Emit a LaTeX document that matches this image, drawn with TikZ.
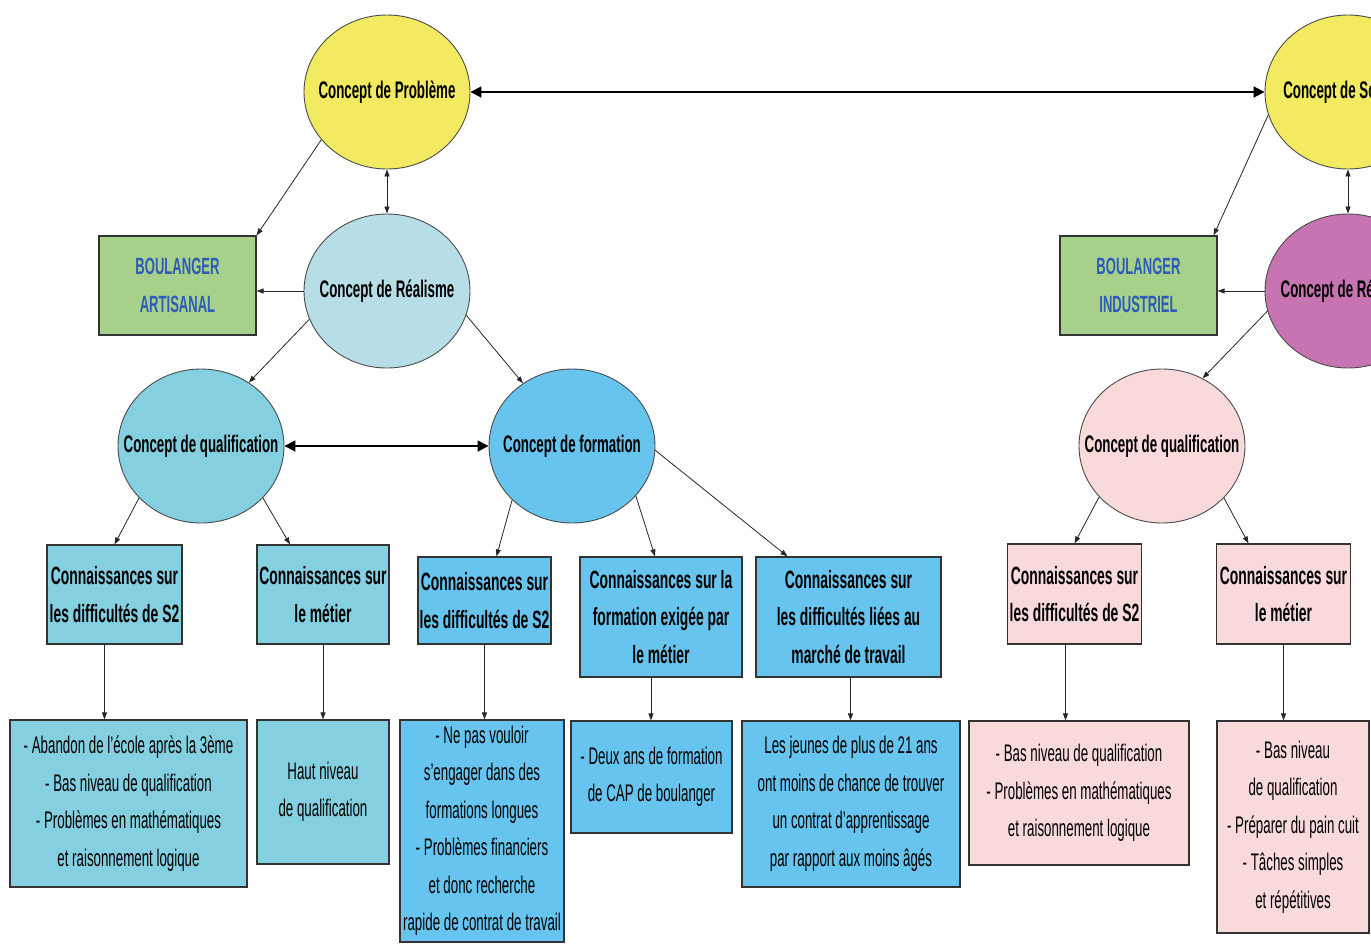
\documentclass[tikz,border=0pt]{standalone}
\usepackage{fontspec}
\newfontfamily\nar[FakeStretch=0.555]{Liberation Sans}
\usetikzlibrary{shapes.geometric,arrows.meta,calc}
\definecolor{cyel}{HTML}{F2EA60}
\definecolor{creal}{HTML}{B7DEE6}
\definecolor{cqual}{HTML}{84CFE0}
\definecolor{cform}{HTML}{66C4EE}
\definecolor{cpink}{HTML}{F9DADB}
\definecolor{cmag}{HTML}{C873B2}
\definecolor{cgreen}{HTML}{A7D18B}
\definecolor{cbluetxt}{HTML}{2E5CB8}
\tikzset{
  circ/.style={ellipse, draw=black!70, line width=0.9pt, minimum width=166pt, minimum height=154pt, inner sep=0pt,
    label={[font=\nar\bfseries\fontsize{24}{28}\selectfont, inner sep=0pt]center:#1}},
  hbox/.style={rectangle, draw=black!80, line width=1.2pt, align=center, inner sep=0pt, font=\nar\bfseries\fontsize{25}{37.5}\selectfont},
  tbox/.style={rectangle, draw=black!80, line width=1.2pt, align=center, inner sep=0pt, font=\nar\fontsize{24}{37.5}\selectfont},
  gbox/.style={rectangle, draw=black!80, line width=1.2pt, align=center, inner sep=0pt, fill=cgreen, text=cbluetxt, minimum width=157pt, minimum height=99pt, font=\nar\bfseries\fontsize{23.5}{38}\selectfont},
  arr/.style={-{Triangle[length=7pt,width=5pt]}, line width=0.8pt, draw=black!85},
  darr/.style={{Triangle[length=7pt,width=5pt]}-{Triangle[length=7pt,width=5pt]}, line width=0.8pt, draw=black!85},
  bigdarr/.style={{Triangle[length=11pt,width=11pt]}-{Triangle[length=11pt,width=11pt]}, line width=1.8pt, draw=black}
}
\begin{document}
\begin{tikzpicture}[x=1pt,y=-1pt]
\useasboundingbox (0,0) rectangle (1371,943);
\clip (0,0) rectangle (1371,943);
\fill[white] (0,0) rectangle (1371,943);

% ellipses
\node[circ={Concept de Problème}, fill=cyel] (prob) at (387,92) {};
\node[circ={Concept de Réalisme}, fill=creal] (real) at (387,291) {};
\node[circ={Concept de qualification}, fill=cqual] (qualL) at (201,446) {};
\node[circ={Concept de formation}, fill=cform] (form) at (572,446) {};
\node[circ={Concept de Solution}, fill=cyel] (sol) at (1348,92) {};
\node[circ={Concept de Réalisme}, fill=cmag] (realR) at (1348,291) {};
\node[circ={Concept de qualification}, fill=cpink] (qualR) at (1162,446) {};

% green boxes
\node[gbox] (art) at (177.5,285.5) {BOULANGER\\ARTISANAL};
\node[gbox] (ind) at (1138.5,285.5) {BOULANGER\\INDUSTRIEL};

% first row boxes
\node[hbox, fill=cqual, minimum width=135pt, minimum height=99pt] (A1) at (114.5,594.5) {Connaissances sur\\les difficultés de S2};
\node[hbox, fill=cqual, minimum width=132pt, minimum height=99pt] (A2) at (323,594.5) {Connaissances sur\\le métier};
\node[hbox, fill=cform, minimum width=133pt, minimum height=87pt] (B1) at (484.5,600.5) {Connaissances sur\\les difficultés de S2};
\node[hbox, fill=cform, minimum width=162pt, minimum height=120pt] (B2) at (661,617) {Connaissances sur la\\formation exigée par\\le métier};
\node[hbox, fill=cform, minimum width=185pt, minimum height=120pt] (B3) at (848.5,617) {Connaissances sur\\les difficultés liées au\\marché de travail};
\node[hbox, fill=cpink, minimum width=134pt, minimum height=100pt] (C1) at (1074.5,594) {Connaissances sur\\les difficultés de S2};
\node[hbox, fill=cpink, minimum width=134pt, minimum height=100pt] (C2) at (1283.5,594) {Connaissances sur\\le métier};

% second row boxes
\node[tbox, fill=cqual, minimum width=237pt, minimum height=167pt] (A1b) at (128.5,803.5) {- Abandon de l’école après la 3ème\\- Bas niveau de qualification\\- Problèmes en mathématiques\\et raisonnement logique};
\node[tbox, fill=cqual, minimum width=132pt, minimum height=144pt] (A2b) at (323,792) {Haut niveau\\de qualification};
\node[tbox, fill=cform, minimum width=164pt, minimum height=222pt] (B1b) at (482,831) {- Ne pas vouloir\\s’engager dans des\\formations longues\\- Problèmes financiers\\et donc recherche\\rapide de contrat de travail};
\node[tbox, fill=cform, minimum width=161pt, minimum height=112pt] (B2b) at (651.5,777) {- Deux ans de formation\\de CAP de boulanger};
\node[tbox, fill=cform, minimum width=218pt, minimum height=166pt] (B3b) at (851,804) {Les jeunes de plus de 21 ans\\ont moins de chance de trouver\\un contrat d’apprentissage\\par rapport aux moins âgés};
\node[tbox, fill=cpink, minimum width=220pt, minimum height=144pt] (C1b) at (1079,793) {- Bas niveau de qualification\\- Problèmes en mathématiques\\et raisonnement logique};
\node[tbox, fill=cpink, minimum width=152pt, minimum height=212pt] (C2b) at (1293,827) {- Bas niveau\\de qualification\\- Préparer du pain cuit\\- Tâches simples\\et répétitives};

% connectors
\draw[bigdarr] (prob.east) -- (sol.west);
\draw[darr] (prob.south) -- (real.north);
\draw[arr] (prob.216) -- (art.north east);
\draw[arr] (real.west) -- (real.west -| art.east);
\draw[arr] (real.200) -- (qualL.53);
\draw[arr] (real.343) -- (form.128);
\draw[bigdarr] (qualL.east) -- (form.west);
\draw[arr] (qualL.220) -- (A1.north);
\draw[arr] (qualL.320) -- ([xshift=-33pt]A2.north);
\draw[arr] (form.222) -- ([xshift=12pt]B1.north);
\draw[arr] (form.322) -- ([xshift=-6pt]B2.north);
\draw[arr] (form.357) -- ([xshift=-61pt]B3.north);

\draw[arr] ([xshift=-10pt]A1.south) -- ([xshift=-10pt]A1.south |- A1b.north);
\draw[arr] (A2.south) -- (A2b.north);
\draw[arr] (B1.south) -- (B1.south |- B1b.north);
\draw[arr] ([xshift=-10pt]B2.south) -- ([xshift=-10pt]B2.south |- B2b.north);
\draw[arr] ([xshift=2pt]B3.south) -- ([xshift=2pt]B3.south |- B3b.north);
\draw[arr] ([xshift=-9pt]C1.south) -- ([xshift=-9pt]C1.south |- C1b.north);
\draw[arr] (C2.south) -- (C2.south |- C2b.north);

\draw[arr] (sol.196) -- ([xshift=-4pt]ind.north east);
\draw[darr] (sol.south) -- (realR.north);
\draw[arr] (realR.west) -- (realR.west -| ind.east);
\draw[arr] (realR.194) -- (qualR.59);
\draw[arr] (qualR.219) -- (C1.north);
\draw[arr] (qualR.320) -- ([xshift=-35pt]C2.north);
\end{tikzpicture}
\end{document}
